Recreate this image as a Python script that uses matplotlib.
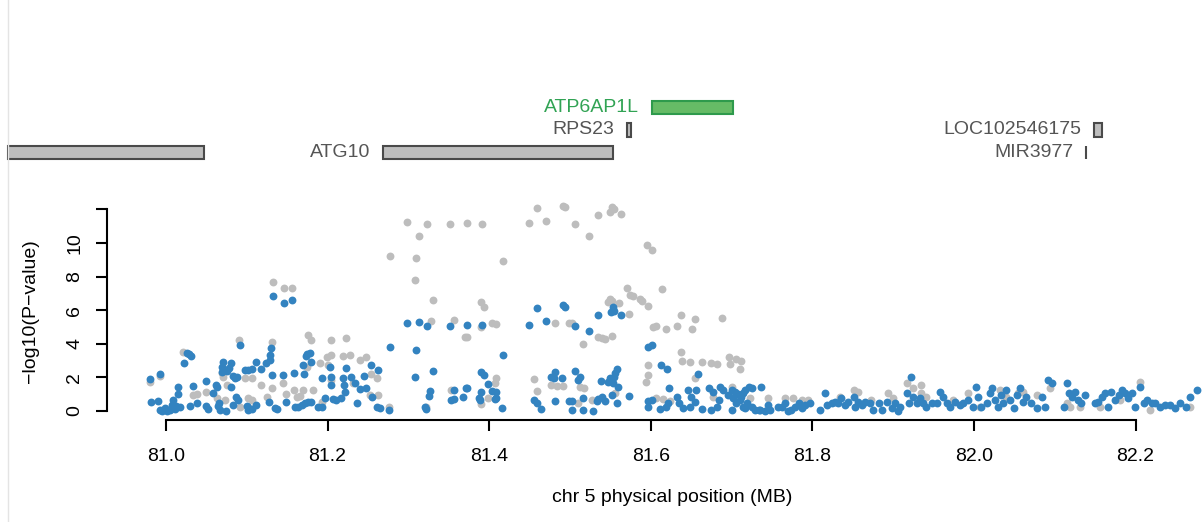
import matplotlib
matplotlib.use("Agg")
import matplotlib.pyplot as plt
from matplotlib.patches import Rectangle
from matplotlib.lines import Line2D

plt.rcParams['font.family'] = ['Liberation Sans', 'DejaVu Sans']

# ---- data ----
blue_x = [80.980, 80.992, 80.982, 80.990, 80.993, 80.999, 81.005, 81.009, 81.007, 81.013,
          81.017, 81.011, 81.001, 80.995, 81.015, 81.015, 81.022, 81.026, 81.028, 81.031,
          81.030, 81.034, 81.038, 81.049, 81.050, 81.052, 81.058, 81.062, 81.063, 81.064,
          81.066, 81.067, 81.069, 81.070, 81.069, 81.075, 81.078, 81.081, 81.074, 81.083,
          81.085, 81.088, 81.081, 81.083, 81.087, 81.089, 81.092, 81.098, 81.101, 81.107,
          81.112, 81.118, 81.124, 81.129, 81.129, 81.130, 81.131, 81.127, 81.102, 81.106,
          81.112, 81.100, 81.132, 81.146, 81.156, 81.135, 81.138, 81.145, 81.149, 81.158,
          81.160, 81.164, 81.168, 81.170, 81.171, 81.173, 81.175, 81.178, 81.180, 81.172,
          81.176, 81.180, 81.188, 81.193, 81.193, 81.197, 81.203, 81.204, 81.204, 81.207,
          81.210, 81.217, 81.219, 81.220, 81.222, 81.223, 81.229, 81.234, 81.236, 81.240,
          81.245, 81.248, 81.254, 81.255, 81.262, 81.261, 81.265,
          81.298, 81.313, 81.323, 81.352, 81.373, 81.391, 81.449, 81.459, 81.470, 81.491,
          81.494, 81.277, 81.309, 81.417, 81.308, 81.331, 81.390, 81.394, 81.399, 81.327,
          81.325, 81.357, 81.371, 81.373, 81.368, 81.353, 81.356, 81.390, 81.387, 81.389,
          81.404, 81.409, 81.407, 81.408, 81.416, 81.276, 81.322, 81.321, 81.455, 81.459,
          81.464, 81.477, 81.480, 81.482, 81.490, 81.481, 81.499,
          81.535, 81.553, 81.555, 81.551, 81.563, 81.506, 81.524, 81.596, 81.602, 81.613,
          81.620, 81.506, 81.512, 81.510, 81.539, 81.547, 81.550, 81.554, 81.558, 81.556,
          81.553, 81.560, 81.659, 81.623, 81.502, 81.516, 81.503, 81.516, 81.528, 81.535,
          81.540, 81.543, 81.533, 81.552, 81.558, 81.573, 81.596, 81.601, 81.597, 81.611,
          81.619, 81.621, 81.632, 81.635, 81.640, 81.646, 81.650, 81.655, 81.649, 81.656,
          81.664, 81.675, 81.682, 81.672, 81.677, 81.686, 81.690, 81.684, 81.700, 81.696,
          81.700, 81.704, 81.708, 81.712, 81.717, 81.721, 81.725, 81.702, 81.710, 81.719,
          81.725, 81.717, 81.706, 81.714, 81.734, 81.729, 81.714,
          81.735, 81.737, 81.741, 81.748, 81.745, 81.758, 81.762, 81.766, 81.770, 81.774,
          81.778, 81.783, 81.787, 81.791, 81.797, 81.809, 81.816, 81.818, 81.824, 81.828,
          81.832, 81.836, 81.840, 81.844, 81.851, 81.853, 81.857, 81.861, 81.865, 81.871,
          81.875, 81.882, 81.886, 81.892, 81.898, 81.902, 81.906, 81.908, 81.917, 81.919,
          81.922, 81.925, 81.929, 81.933, 81.937, 81.941, 81.948, 81.954, 81.958, 81.962,
          81.966, 81.970, 81.976, 81.983,
          81.987, 81.993, 81.999, 82.003, 82.005, 82.009, 82.016, 82.020, 82.022, 82.026,
          82.030, 82.034, 82.036, 82.040, 82.045, 82.049, 82.053, 82.057, 82.061, 82.065,
          82.071, 82.078, 82.084, 82.088, 82.092, 82.096, 82.111, 82.115, 82.117, 82.121,
          82.125, 82.129, 82.133, 82.137, 82.150, 82.154, 82.158, 82.162, 82.166, 82.170,
          82.175, 82.179, 82.183, 82.187, 82.191, 82.195, 82.199, 82.206, 82.210, 82.214,
          82.220, 82.224, 82.230, 82.236, 82.243, 82.249, 82.255, 82.263, 82.267, 82.276]
blue_y = [1.90, 2.22, 0.55, 0.60, 0.06, 0.16, 0.06, 0.65, 0.36, 0.30,
          0.26, 0.10, 0.00, 0.00, 1.45, 1.01, 2.88, 3.47, 3.37, 3.27,
          0.30, 1.49, 0.46, 1.80, 0.30, 0.10, 1.05, 1.55, 1.45, 0.30,
          0.50, 0.06, 2.64, 2.93, 2.34, 2.40, 2.54, 2.84, 0.00, 2.08,
          1.95, 2.01, 1.45, 0.36, 0.85, 0.65, 3.93, 2.44, 2.44, 2.50,
          2.93, 2.52, 2.88, 3.04, 3.33, 3.77, 2.14, 0.55, 0.06, 0.10,
          0.36, 0.30, 6.83, 6.45, 6.59, 0.16, 0.10, 2.14, 0.55, 2.28,
          0.22, 0.26, 0.36, 2.74, 2.20, 3.27, 3.39, 3.47, 2.93, 0.50,
          0.54, 0.55, 0.26, 0.26, 1.95, 0.76, 2.60, 2.04, 1.55, 0.70,
          0.65, 0.76, 1.95, 1.55, 1.15, 2.56, 2.04, 1.69, 0.46, 1.29,
          2.08, 1.35, 2.74, 0.82, 2.44, 0.22, 0.16,
          5.22, 5.30, 5.06, 5.06, 5.14, 5.12, 5.14, 6.13, 5.34, 6.29,
          6.17, 3.83, 3.65, 3.33, 2.04, 2.38, 2.32, 2.12, 1.59, 1.21,
          0.91, 1.25, 1.39, 1.39, 0.85, 0.65, 0.70, 1.11, 0.76, 0.65,
          1.19, 1.11, 0.71, 0.77, 0.20, 0.04, 0.10, 0.22, 0.65, 0.46,
          0.14, 2.00, 1.95, 2.34, 1.98, 0.58, 0.58,
          5.71, 6.17, 5.97, 5.91, 5.71, 5.06, 4.76, 3.83, 3.95, 2.74,
          2.50, 2.38, 2.04, 1.85, 1.80, 1.74, 1.95, 2.04, 2.50, 2.24,
          1.65, 1.45, 2.20, 1.35, 0.60, 0.76, 0.06, 0.06, 0.02, 0.70,
          0.82, 0.60, 0.61, 0.95, 0.46, 0.91, 0.60, 0.65, 0.26, 0.12,
          0.26, 0.46, 0.85, 0.50, 0.16, 1.25, 0.82, 0.55, 0.22, 1.25,
          0.12, 0.06, 0.26, 1.35, 1.15, 1.45, 1.25, 0.65, 0.06, 0.95,
          1.25, 1.15, 1.01, 0.85, 1.25, 1.45, 1.35, 0.76, 0.65, 0.46,
          0.26, 0.16, 0.46, 1.05, 0.06, 0.06, 0.26,
          0.06, 1.45, 0.00, 0.06, 0.36, 0.26, 0.26, 0.46, 0.00, 0.06,
          0.26, 0.46, 0.16, 0.36, 0.46, 0.06, 1.05, 0.36, 0.46, 0.56,
          0.46, 0.75, 0.36, 0.56, 0.85, 0.26, 0.56, 0.36, 0.56, 0.46,
          0.06, 0.46, 0.06, 0.56, 0.16, 0.46, 0.00, 0.26, 1.05, 0.46,
          2.00, 0.85, 0.46, 0.75, 0.46, 0.26, 0.46, 0.46, 1.15, 0.85,
          0.46, 0.26, 0.56, 0.36,
          0.46, 0.65, 0.26, 1.45, 0.85, 0.26, 0.46, 1.05, 1.35, 0.65,
          0.26, 0.95, 0.46, 1.25, 0.65, 0.16, 0.95, 1.35, 0.56, 0.85,
          0.46, 0.16, 0.85, 0.26, 1.85, 1.65, 0.26, 1.65, 1.05, 0.85,
          1.15, 0.65, 0.46, 0.95, 0.46, 0.56, 0.85, 1.05, 0.26, 1.15,
          0.65, 0.95, 1.25, 1.05, 0.75, 1.05, 0.26, 1.45, 0.46, 0.65,
          0.46, 0.46, 0.26, 0.36, 0.36, 0.16, 0.46, 0.26, 0.85, 1.25]

gray_x = [80.980, 80.992, 81.132, 81.146, 81.156, 81.021, 81.034, 81.038, 81.050, 81.063,
          81.069, 81.071, 81.073, 81.075, 81.091, 81.092, 81.098, 81.102, 81.106, 81.107,
          81.118, 81.131, 81.131, 81.125, 81.145, 81.149, 81.158, 81.162, 81.166, 81.170,
          81.176, 81.179, 81.174, 81.182, 81.191, 81.193, 81.199, 81.204, 81.204, 81.201,
          81.204, 81.219, 81.223, 81.228, 81.232, 81.240, 81.248, 81.252, 81.254, 81.261,
          81.262, 81.276, 81.101,
          81.298, 81.323, 81.313, 81.352, 81.373, 81.391, 81.277, 81.309, 81.308, 81.331,
          81.390, 81.394, 81.417, 81.328, 81.357, 81.403, 81.408, 81.370, 81.373, 81.390,
          81.449, 81.459, 81.470, 81.491, 81.494, 81.481, 81.499, 81.353, 81.322, 81.390,
          81.399, 81.407, 81.409, 81.455, 81.459, 81.477, 81.484, 81.491,
          81.506, 81.524, 81.535, 81.552, 81.554, 81.550, 81.563, 81.595, 81.601, 81.571,
          81.574, 81.578, 81.587, 81.589, 81.550, 81.552, 81.547, 81.561, 81.596, 81.614,
          81.573, 81.502, 81.535, 81.540, 81.543, 81.552, 81.516, 81.603, 81.607, 81.619,
          81.632, 81.651, 81.638, 81.655, 81.688, 81.637, 81.639, 81.649, 81.664, 81.674,
          81.682, 81.697, 81.705, 81.712, 81.698, 81.710, 81.597, 81.596, 81.594, 81.512,
          81.517, 81.655, 81.556, 81.527, 81.510, 81.607, 81.615, 81.624, 81.677, 81.700,
          81.723, 81.745, 81.766, 81.776, 81.787, 81.795, 81.834, 81.851, 81.857, 81.873,
          81.894, 81.900, 81.917, 81.935, 81.925, 81.935, 81.941, 81.974, 81.993,
          82.007, 82.032, 82.040, 82.055, 82.061, 82.078, 82.094, 82.115, 82.119, 82.131,
          82.156, 82.181, 82.206, 82.218, 82.267]
gray_y = [1.75, 2.10, 7.66, 7.30, 7.34, 3.53, 0.95, 1.01, 1.15, 0.76,
          2.24, 2.04, 0.65, 1.55, 4.23, 0.26, 1.95, 0.76, 1.95, 0.65,
          1.55, 1.35, 4.13, 0.85, 1.65, 1.01, 1.25, 0.85, 0.89, 1.25,
          4.52, 4.23, 2.64, 1.25, 2.84, 0.55, 3.23, 4.23, 3.33, 2.74,
          1.85, 3.27, 4.33, 3.33, 1.65, 3.04, 3.19, 0.95, 2.20, 1.95,
          0.95, 0.26, 0.26,
          11.27, 11.11, 10.44, 11.11, 11.19, 11.15, 9.25, 9.13, 7.80, 6.61,
          6.47, 6.21, 8.95, 5.36, 5.40, 5.26, 5.16, 4.42, 4.42, 4.98,
          11.19, 12.10, 11.33, 12.22, 12.12, 5.22, 5.22, 1.23, 0.26, 0.43,
          0.75, 1.69, 1.95, 1.90, 1.19, 1.55, 1.49, 1.51,
          11.11, 10.40, 11.69, 12.16, 12.01, 11.86, 11.71, 9.90, 9.58, 7.32,
          6.92, 6.85, 6.65, 6.57, 6.65, 6.55, 6.47, 6.41, 6.27, 7.24,
          5.75, 5.22, 4.42, 4.33, 4.27, 4.48, 3.97, 5.02, 5.06, 4.88,
          5.04, 4.88, 5.71, 5.48, 5.52, 3.53, 2.98, 2.94, 2.90, 2.84,
          2.82, 3.23, 3.11, 2.99, 2.78, 2.50, 2.74, 2.14, 1.71, 1.45,
          1.35, 1.95, 1.05, 0.65, 0.46, 0.76, 0.70, 0.61, 0.85, 1.45,
          0.75, 0.75, 0.75, 0.75, 0.65, 0.65, 0.85, 1.25, 1.15, 0.65,
          1.05, 0.75, 1.65, 1.55, 1.35, 1.05, 0.85, 0.65, 1.05,
          0.26, 1.25, 0.85, 1.05, 1.15, 0.95, 1.35, 0.46, 0.26, 0.26,
          0.26, 0.65, 1.75, 0.06, 0.26]

gene_names = ['', 'ATG10', 'RPS23', 'ATP6AP1L', 'LOC102546175', 'MIR3977']
gene_start = [80.8045, 81.268, 81.570, 81.601, 82.149, 82.1388]
gene_end = [81.047, 81.553, 81.576, 81.702, 82.158, 82.1392]
gene_row = [3, 3, 2, 1, 2, 3]
gene_hit = [False, False, False, True, False, False]

x_ticks = [81.0, 81.2, 81.4, 81.6, 81.8, 82.0, 82.2]
y_ticks = [0, 2, 4, 6, 8, 10, 12]
y_ticklabels = ['0', '2', '4', '6', '8', '10', '']

W, H = 1202, 522
xlim = (80.7946, 82.2822)

fig = plt.figure(figsize=(W / 100, H / 100), dpi=100)

# faint border line on the left
fig.add_artist(Line2D([7.5 / W, 7.5 / W], [0, 1], color='#e4e4e4', lw=1))

# ---- gene track ----
gax = fig.add_axes([0, 1 - 170 / H, 1, 80 / H])
gax.set_xlim(*xlim)
gax.set_ylim(3.8, 0.2)
gax.axis('off')
for name, s, e, r, hit in zip(gene_names, gene_start, gene_end, gene_row, gene_hit):
    fc = '#66bb66' if hit else '#bebebe'
    ec = '#2e9a4c' if hit else '#4a4a4a'
    tc = '#31a354' if hit else '#555555'
    gax.add_patch(Rectangle((s, r - 0.3), e - s, 0.6, facecolor=fc,
                            edgecolor=ec, lw=1.5, clip_on=False))
    if name:
        gax.annotate(name, (s, r), xytext=(-9, 0), textcoords='offset points',
                     ha='right', va='center', fontsize=14, color=tc)

# ---- association plot ----
ax = fig.add_axes([0, 1 - 440 / H, 1, 245 / H])
ax.set_xlim(*xlim)
ax.set_ylim(-1.726, 12.857)
ax.scatter(gray_x, gray_y, s=32, color='#bdbdbd', linewidths=0, zorder=2)
ax.scatter(blue_x, blue_y, s=32, color='#3383c0', linewidths=0, zorder=3)

for sp in ['top', 'right']:
    ax.spines[sp].set_visible(False)
ax.spines['left'].set_position(('data', 80.927))
ax.spines['left'].set_bounds(0, 12)
ax.spines['bottom'].set_position(('data', -0.536))
ax.spines['bottom'].set_bounds(81.0, 82.2)
for sp in ['left', 'bottom']:
    ax.spines[sp].set_linewidth(1.5)

ax.set_xticks(x_ticks)
ax.set_xticklabels(['%.1f' % v for v in x_ticks])
ax.set_yticks(y_ticks)
ax.set_yticklabels(y_ticklabels, rotation=90, va='center')
ax.tick_params(axis='both', length=8, width=1.5, labelsize=14, color='black')
ax.tick_params(axis='x', pad=12)
ax.tick_params(axis='y', pad=9)

fig.text(30 / W, 1 - 311 / H, '\u2212log10(P\u2212value)', rotation=90,
         ha='center', va='center', fontsize=14)
fig.text(672 / W, 1 - 497 / H, 'chr 5 physical position (MB)',
         ha='center', va='center', fontsize=14)

fig.savefig('out.png', dpi=100)
